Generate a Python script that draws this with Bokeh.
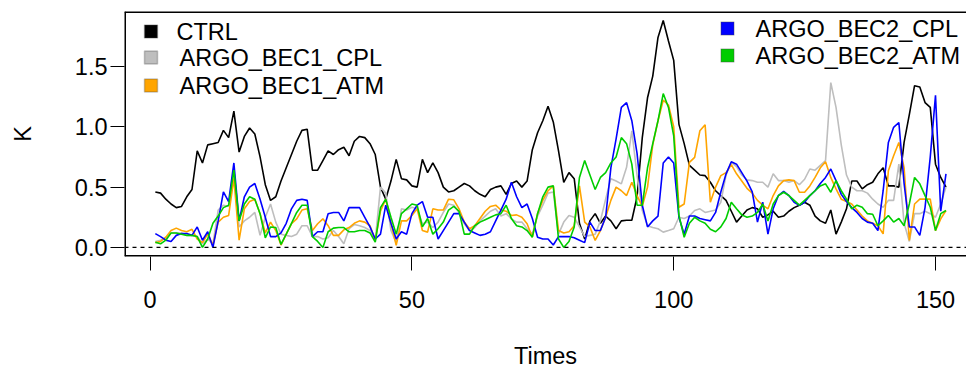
from bokeh.plotting import figure
from bokeh.models import Range1d, FixedTicker, Span, Label, BoxAnnotation, NumeralTickFormatter
from bokeh.embed import file_html
from bokeh.resources import INLINE

times = list(range(1, 153))

ctrl = [0.46,0.45,0.40,0.36,0.33,0.34,0.42,0.48,0.80,0.70,
        0.85,0.86,0.87,0.97,0.91,1.13,0.79,0.92,0.99,0.94,
        0.75,0.52,0.39,0.42,0.55,0.66,0.77,0.88,0.97,0.98,
        0.64,0.64,0.72,0.80,0.77,0.81,0.83,0.76,0.88,0.92,
        0.91,0.86,0.77,0.50,0.40,0.55,0.73,0.57,0.56,0.51,
        0.50,0.73,0.62,0.70,0.62,0.50,0.46,0.47,0.50,0.53,
        0.51,0.47,0.44,0.42,0.48,0.50,0.51,0.44,0.53,0.55,
        0.50,0.55,0.81,0.95,1.05,1.17,1.04,0.80,0.54,0.62,
        0.57,0.20,0.07,0.22,0.28,0.20,0.26,0.22,0.155,0.22,
        0.225,0.225,0.42,0.91,1.24,1.42,1.74,1.88,1.71,1.55,
        1.02,0.86,0.68,0.64,0.60,0.595,0.54,0.47,0.43,0.39,
        0.30,0.21,0.26,0.31,0.33,0.32,0.25,0.27,0.30,0.25,
        0.26,0.30,0.33,0.35,0.375,0.35,0.26,0.22,0.20,0.31,
        0.11,0.21,0.32,0.55,0.55,0.485,0.52,0.54,0.61,0.66,
        0.51,0.51,0.50,0.87,1.10,1.34,1.33,1.20,1.16,0.69,
        0.58,0.50]

bec1_cpl = [0.05,0.06,0.08,0.12,0.12,0.12,0.10,0.10,0.09,0.03,
            0.07,0.03,0.31,0.35,0.34,0.61,0.17,0.22,0.25,0.29,
            0.10,0.25,0.36,0.21,0.11,0.10,0.09,0.11,0.18,0.18,
            0.09,0.09,0.07,0.08,0.14,0.09,0.03,0.155,0.19,0.18,
            0.165,0.14,0.058,0.50,0.45,0.14,0.04,0.32,0.31,0.333,
            0.32,0.196,0.21,0.165,0.21,0.29,0.36,0.35,0.29,0.196,
            0.14,0.165,0.22,0.26,0.30,0.32,0.26,0.28,0.237,0.21,
            0.21,0.155,0.113,0.26,0.35,0.45,0.46,0.11,0.21,0.265,
            0.25,0.17,0.09,0.10,0.11,0.22,0.40,0.57,0.55,0.527,
            0.664,0.967,0.60,0.306,0.18,0.165,0.155,0.127,0.14,0.155,
            0.25,0.24,0.26,0.306,0.32,0.29,0.30,0.31,0.375,0.60,
            0.705,0.67,0.60,0.56,0.554,0.54,0.54,0.50,0.61,0.554,
            0.554,0.54,0.554,0.52,0.565,0.65,0.64,0.68,0.72,1.366,
            1.16,0.85,0.60,0.50,0.47,0.47,0.45,0.40,0.36,0.333,
            0.39,0.39,0.69,0.20,0.05,0.28,0.28,0.30,0.28,0.25,
            0.36,0.50]

bec1_atm = [0.04,0.05,0.085,0.14,0.16,0.14,0.13,0.15,0.07,0.04,
            0.11,0.02,0.21,0.25,0.265,0.57,0.06,0.32,0.38,0.40,
            0.28,0.12,0.21,0.14,0.02,0.11,0.196,0.237,0.31,0.32,
            0.14,0.196,0.237,0.18,0.10,0.10,0.146,0.165,0.20,0.22,
            0.21,0.18,0.058,0.30,0.40,0.20,0.017,0.22,0.22,0.265,
            0.32,0.14,0.127,0.32,0.31,0.31,0.40,0.395,0.32,0.21,
            0.155,0.18,0.24,0.30,0.34,0.35,0.31,0.30,0.265,0.27,
            0.25,0.196,0.085,0.28,0.39,0.47,0.51,0.14,0.12,0.13,
            0.18,0.51,0.21,0.17,0.058,0.14,0.25,0.39,0.50,0.47,
            0.43,0.54,0.43,0.34,0.50,0.85,1.05,1.22,1.18,1.00,
            0.333,0.36,0.705,0.746,0.967,1.016,0.375,0.50,0.595,0.62,
            0.686,0.61,0.55,0.49,0.45,0.39,0.35,0.32,0.43,0.51,
            0.554,0.56,0.554,0.457,0.457,0.51,0.58,0.66,0.71,0.58,
            0.485,0.40,0.38,0.36,0.31,0.26,0.22,0.20,0.18,0.113,
            0.636,0.76,0.87,0.66,0.058,0.36,0.40,0.40,0.40,0.14,
            0.237,0.306]

bec2_cpl = [0.115,0.09,0.06,0.05,0.10,0.115,0.115,0.10,0.17,0.06,
            0.13,0.00,0.22,0.46,0.38,0.70,0.22,0.42,0.50,0.53,
            0.40,0.25,0.09,0.09,0.12,0.20,0.32,0.39,0.40,0.39,
            0.09,0.13,0.13,0.28,0.29,0.29,0.22,0.33,0.33,0.33,
            0.25,0.17,0.07,0.11,0.35,0.20,0.07,0.13,0.11,0.28,
            0.35,0.38,0.25,0.25,0.07,0.14,0.21,0.28,0.28,0.21,
            0.14,0.12,0.10,0.11,0.13,0.22,0.31,0.40,0.54,0.42,
            0.33,0.36,0.24,0.085,0.07,0.07,0.02,0.09,0.09,0.09,
            0.08,0.06,0.04,0.21,0.14,0.14,0.25,0.66,0.90,1.16,
            1.20,1.05,0.78,0.35,0.17,0.22,0.26,0.70,0.75,0.70,
            0.25,0.11,0.26,0.26,0.24,0.23,0.22,0.29,0.46,0.61,
            0.71,0.69,0.62,0.55,0.46,0.21,0.375,0.11,0.32,0.43,
            0.465,0.43,0.375,0.35,0.375,0.43,0.47,0.53,0.58,0.65,
            0.554,0.44,0.38,0.33,0.29,0.24,0.21,0.20,0.14,0.47,
            0.87,0.995,1.035,0.53,0.17,0.17,0.10,0.33,0.75,1.26,
            0.30,0.61]

bec2_atm = [0.044,0.03,0.06,0.12,0.12,0.11,0.10,0.10,0.09,0.00,
            0.07,0.20,0.26,0.33,0.35,0.64,0.22,0.36,0.42,0.40,
            0.28,0.08,0.17,0.165,0.025,0.11,0.20,0.29,0.35,0.35,
            0.09,0.05,0.00,0.13,0.16,0.165,0.165,0.13,0.13,0.14,
            0.14,0.12,0.044,0.33,0.40,0.25,0.11,0.28,0.32,0.36,
            0.35,0.17,0.24,0.11,0.155,0.21,0.31,0.34,0.30,0.11,
            0.11,0.18,0.21,0.23,0.25,0.27,0.28,0.35,0.24,0.18,
            0.17,0.14,0.085,0.28,0.42,0.50,0.51,0.07,0.00,0.05,
            0.17,0.58,0.72,0.60,0.48,0.58,0.62,0.70,0.75,0.91,
            0.86,0.69,0.35,0.35,0.66,0.86,1.05,1.275,1.16,0.925,
            0.265,0.085,0.20,0.25,0.22,0.20,0.15,0.13,0.17,0.24,
            0.375,0.32,0.27,0.25,0.26,0.29,0.36,0.22,0.36,0.43,
            0.457,0.43,0.39,0.35,0.39,0.43,0.47,0.51,0.527,0.457,
            0.554,0.47,0.40,0.32,0.35,0.333,0.28,0.275,0.18,0.22,
            0.265,0.21,0.24,0.18,0.36,0.58,0.527,0.43,0.333,0.14,
            0.28,0.306]

series_names = ["CTRL", "ARGO_BEC1_CPL", "ARGO_BEC1_ATM", "ARGO_BEC2_CPL", "ARGO_BEC2_ATM"]
series_values = [ctrl, bec1_cpl, bec1_atm, bec2_cpl, bec2_atm]
series_colors = ["#000000", "#BEBEBE", "#FFA500", "#0000FF", "#00CD00"]

x_ticks = [0, 50, 100, 150]
y_ticks = [0.0, 0.5, 1.0, 1.5]
x_title = "Times"
y_title = "K"

FONT = "Liberation Sans"
FS = "23.5px"

# page offset of the figure as observed in the screenshot
OX, OY = 2, 0
W, H = 966, 372
ML, MT, MB, MR = 124, 11, 116, 0
FW, FH = W - ML - MR, H - MT - MB
X0 = -4.89
X1 = X0 + FW / 5.236
Y0, Y1 = -0.075, 1.955

p = figure(width=W, height=H, x_range=Range1d(X0, X1), y_range=Range1d(Y0, Y1),
           output_backend="svg", toolbar_location=None,
           min_border_left=ML, min_border_top=MT, min_border_bottom=MB, min_border_right=MR)
p.grid.visible = False
p.outline_line_color = None
p.background_fill_color = "white"
p.border_fill_color = "white"

for ax in (p.xaxis[0], p.yaxis[0]):
    ax.axis_line_color = None
    ax.major_tick_out = 14
    ax.major_tick_in = 0
    ax.major_tick_line_color = "black"
    ax.major_tick_line_width = 1
    ax.minor_tick_line_color = None
    ax.major_label_text_font = FONT
    ax.major_label_text_font_size = FS
    ax.major_label_text_color = "black"
    ax.axis_label_text_font = FONT
    ax.axis_label_text_font_size = FS
    ax.axis_label_text_font_style = "normal"
    ax.axis_label_text_color = "black"

p.xaxis.ticker = FixedTicker(ticks=x_ticks)
p.yaxis.ticker = FixedTicker(ticks=y_ticks)
p.yaxis.formatter = NumeralTickFormatter(format="0.0")
p.yaxis.major_label_orientation = "horizontal"
p.xaxis.major_label_standoff = 20
p.yaxis.major_label_standoff = 3
p.xaxis.axis_label = x_title
p.yaxis.axis_label = y_title
p.xaxis.axis_label_standoff = 32
p.yaxis.axis_label_standoff = 36

# zero reference line
p.add_layout(Span(location=0, dimension="width", line_color="black", line_width=1.3, line_dash="4 4"))

for vals, col in zip(series_values, series_colors):
    p.line(times, vals, line_color=col, line_width=1.6)

# box (left, top, bottom; right edge lies outside the picture)
for loc in (Y0, Y1):
    p.add_layout(Span(location=loc, dimension="width", line_color="black", line_width=3))
p.add_layout(Span(location=X0, dimension="height", line_color="black", line_width=3))

FL, FT = OX + ML, OY + MT


def dx(px):
    return X0 + (px - FL) / FW * (X1 - X0)


def dy(py):
    return Y1 - (py - FT) / FH * (Y1 - Y0)


# legend
legend_layout = [
    (152.5, 31, 178),
    (152.5, 57, 181),
    (152.5, 85, 181),
    (729.0, 28, 757),
    (729.0, 55, 757),
]
sq = 13
for (cx, cy, tx), name, col in zip(legend_layout, series_names, series_colors):
    p.add_layout(BoxAnnotation(left=dx(cx - sq / 2), right=dx(cx + sq / 2),
                               bottom=dy(cy + sq / 2), top=dy(cy - sq / 2),
                               fill_color=col, fill_alpha=1.0,
                               line_color="#444444", line_width=1.5))
    p.add_layout(Label(x=dx(tx), y=dy(cy), text=name, text_font=FONT,
                       text_font_size=FS, text_baseline="middle", text_align="left",
                       text_color="black"))

open("out.html", "w").write(file_html(p, INLINE))
